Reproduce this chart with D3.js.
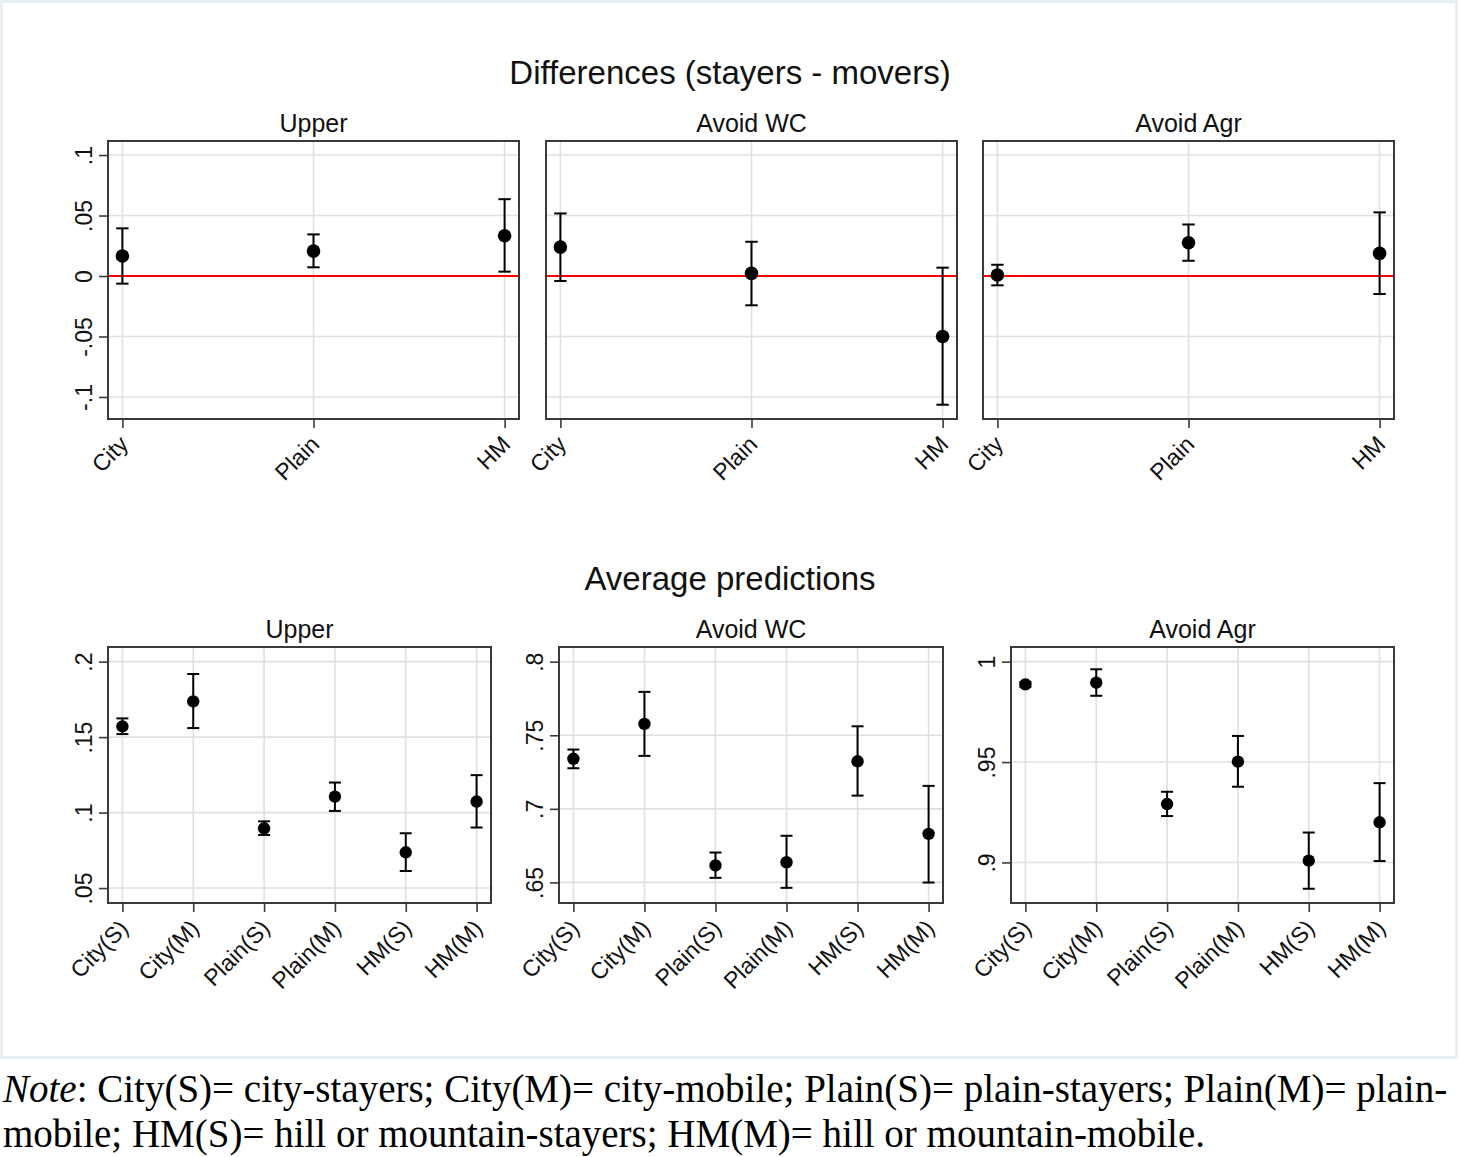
<!DOCTYPE html>
<html>
<head>
<meta charset="utf-8">
<script src="https://cdn.jsdelivr.net/npm/d3@7"></script>
<style>
  html, body { margin: 0; padding: 0; background: #fff; }
  svg { display: block; }
</style>
</head>
<body>
<script>
// ---------------- DATA ----------------
const topCats = ["City", "Plain", "HM"];
const botCats = ["City(S)", "City(M)", "Plain(S)", "Plain(M)", "HM(S)", "HM(M)"];
const panelTitles = ["Upper", "Avoid WC", "Avoid Agr"];

// Differences (stayers - movers): estimate, lower CI, upper CI
const diffUpperEst = [0.0165, 0.0206, 0.0333];
const diffUpperLo  = [-0.0063, 0.0072, 0.0036];
const diffUpperHi  = [0.0394, 0.0344, 0.0635];

const diffWCEst = [0.0239, 0.0022, -0.0500];
const diffWCLo  = [-0.0041, -0.0242, -0.1064];
const diffWCHi  = [0.0517, 0.0283, 0.0069];

const diffAgrEst = [0.0008, 0.0275, 0.0187];
const diffAgrLo  = [-0.0077, 0.0126, -0.0149];
const diffAgrHi  = [0.0093, 0.0426, 0.0526];

// Average predictions: estimate, lower CI, upper CI
const predUpperEst = [0.1571, 0.1737, 0.0896, 0.1106, 0.0737, 0.1073];
const predUpperLo  = [0.1520, 0.1560, 0.0852, 0.1011, 0.0613, 0.0901];
const predUpperHi  = [0.1624, 0.1918, 0.0942, 0.1199, 0.0863, 0.1248];

const predWCEst = [0.7340, 0.7577, 0.6615, 0.6637, 0.7323, 0.6830];
const predWCLo  = [0.7276, 0.7360, 0.6531, 0.6463, 0.7090, 0.6499];
const predWCHi  = [0.7403, 0.7795, 0.6703, 0.6817, 0.7561, 0.7156];

const predAgrEst = [0.9887, 0.9895, 0.9291, 0.9502, 0.9009, 0.9200];
const predAgrLo  = [0.9875, 0.9830, 0.9231, 0.9377, 0.8869, 0.9007];
const predAgrHi  = [0.9899, 0.9962, 0.9352, 0.9630, 0.9149, 0.9395];

// Axis ticks and labels
const diffTicks = [-0.1, -0.05, 0, 0.05, 0.1];
const diffTickLabels = ["-.1", "-.05", "0", ".05", ".1"];
const predUpperTicks = [0.05, 0.1, 0.15, 0.2];
const predUpperTickLabels = [".05", ".1", ".15", ".2"];
const predWCTicks = [0.65, 0.7, 0.75, 0.8];
const predWCTickLabels = [".65", ".7", ".75", ".8"];
const predAgrTicks = [0.9, 0.95, 1];
const predAgrTickLabels = [".9", ".95", "1"];

// Axis ranges
const diffRange = [-0.1182, 0.1116];
const predUpperRange = [0.0401, 0.2097];
const predWCRange = [0.636, 0.81];
const predAgrRange = [0.8798, 1.0073];

const titleTop = "Differences (stayers - movers)";
const titleBottom = "Average predictions";
const noteLine1Rest = ": City(S)= city-stayers; City(M)= city-mobile; Plain(S)= plain-stayers; Plain(M)= plain-";
const noteLine2 = "mobile; HM(S)= hill or mountain-stayers; HM(M)= hill or mountain-mobile.";

// ---------------- DRAW ----------------
const W = 1459, H = 1157;
const svg = d3.select("body").append("svg").attr("width", W).attr("height", H)
  .style("font-family", "'Liberation Sans', Arial, sans-serif");

svg.append("rect").attr("x", 0).attr("y", 0).attr("width", W).attr("height", H).attr("fill", "#fff");
svg.append("rect").attr("x", 1.5).attr("y", 1.5).attr("width", 1455).attr("height", 1056)
  .attr("fill", "#fff").attr("stroke", "#e6eff1").attr("stroke-width", 3);

const FRAME = "#3a3a3a", GRID = "#e0e0e0";
const TICKFONT = 23;

function panel(o) {
  const x = d3.scalePoint().domain(o.cats).range([o.x0 + 14.4, o.x1 - 14.4]);
  const y = d3.scaleLinear().domain(o.range).range([o.y1, o.y0]);
  const g = svg.append("g");

  // title
  g.append("text").attr("x", (o.x0 + o.x1) / 2).attr("y", o.y0 - 9)
    .attr("text-anchor", "middle").attr("font-size", 25).attr("fill", "#111").text(o.title);

  // grid
  g.selectAll(".hg").data(o.ticks).join("line")
    .attr("x1", o.x0).attr("x2", o.x1).attr("y1", d => y(d)).attr("y2", d => y(d))
    .attr("stroke", GRID).attr("stroke-width", 1.6);
  g.selectAll(".vg").data(o.cats).join("line")
    .attr("x1", d => x(d)).attr("x2", d => x(d)).attr("y1", o.y0).attr("y2", o.y1)
    .attr("stroke", GRID).attr("stroke-width", 1.6);

  // reference line
  if (o.ref !== undefined) {
    g.append("line").attr("x1", o.x0).attr("x2", o.x1).attr("y1", y(o.ref)).attr("y2", y(o.ref))
      .attr("stroke", "#ff0000").attr("stroke-width", 2);
  }

  // frame
  g.append("rect").attr("x", o.x0).attr("y", o.y0).attr("width", o.x1 - o.x0).attr("height", o.y1 - o.y0)
    .attr("fill", "none").attr("stroke", FRAME).attr("stroke-width", 2);

  // y axis
  if (o.showY) {
    const ya = g.append("g").attr("transform", `translate(${o.x0},0)`)
      .call(d3.axisLeft(y).tickValues(o.ticks).tickFormat((d, i) => o.tickLabels[i]).tickSize(9));
    ya.select(".domain").remove();
    ya.selectAll(".tick line").attr("stroke", FRAME).attr("stroke-width", 1.6);
    ya.selectAll(".tick text").attr("x", 0).attr("dy", 0).attr("text-anchor", "middle")
      .attr("transform", "translate(-16,0) rotate(-90)")
      .attr("font-size", TICKFONT).attr("fill", "#111")
      .style("font-family", "'Liberation Sans', Arial, sans-serif");
  }

  // x axis
  const xa = g.append("g").attr("transform", `translate(0,${o.y1})`)
    .call(d3.axisBottom(x).tickSize(9));
  xa.select(".domain").remove();
  xa.selectAll(".tick line").attr("stroke", FRAME).attr("stroke-width", 1.6);
  xa.selectAll(".tick text").attr("y", 0).attr("dy", "0.35em").attr("text-anchor", "end")
    .attr("transform", "translate(1,21) rotate(-45)")
    .attr("font-size", TICKFONT).attr("fill", "#111")
    .style("font-family", "'Liberation Sans', Arial, sans-serif");

  // error bars
  const data = o.cats.map((c, i) => ({ c, e: o.est[i], lo: o.lo[i], hi: o.hi[i] }));
  const eb = g.append("g").attr("stroke", "#000").attr("stroke-width", 2);
  eb.selectAll(".v").data(data).join("line")
    .attr("x1", d => x(d.c)).attr("x2", d => x(d.c)).attr("y1", d => y(d.lo)).attr("y2", d => y(d.hi));
  eb.selectAll(".ct").data(data).join("line")
    .attr("x1", d => x(d.c) - o.cap).attr("x2", d => x(d.c) + o.cap).attr("y1", d => y(d.hi)).attr("y2", d => y(d.hi));
  eb.selectAll(".cb").data(data).join("line")
    .attr("x1", d => x(d.c) - o.cap).attr("x2", d => x(d.c) + o.cap).attr("y1", d => y(d.lo)).attr("y2", d => y(d.lo));

  g.selectAll(".pt").data(data).join("circle")
    .attr("cx", d => x(d.c)).attr("cy", d => y(d.e)).attr("r", o.r).attr("fill", "#000");
}

// Titles
svg.append("text").attr("x", 730).attr("y", 84).attr("text-anchor", "middle")
  .attr("font-size", 33).attr("fill", "#111").text(titleTop);
svg.append("text").attr("x", 730).attr("y", 590).attr("text-anchor", "middle")
  .attr("font-size", 33).attr("fill", "#111").text(titleBottom);

const topY0 = 141, topY1 = 419;
const botY0 = 647, botY1 = 903;

panel({ title: panelTitles[0], x0: 108, x1: 519, y0: topY0, y1: topY1, cats: topCats,
  est: diffUpperEst, lo: diffUpperLo, hi: diffUpperHi, ticks: diffTicks, tickLabels: diffTickLabels,
  range: diffRange, showY: true, ref: 0, r: 6.8, cap: 6.2 });
panel({ title: panelTitles[1], x0: 546, x1: 957, y0: topY0, y1: topY1, cats: topCats,
  est: diffWCEst, lo: diffWCLo, hi: diffWCHi, ticks: diffTicks, tickLabels: diffTickLabels,
  range: diffRange, showY: false, ref: 0, r: 6.8, cap: 6.2 });
panel({ title: panelTitles[2], x0: 983, x1: 1394, y0: topY0, y1: topY1, cats: topCats,
  est: diffAgrEst, lo: diffAgrLo, hi: diffAgrHi, ticks: diffTicks, tickLabels: diffTickLabels,
  range: diffRange, showY: false, ref: 0, r: 6.8, cap: 6.2 });

panel({ title: panelTitles[0], x0: 108, x1: 491, y0: botY0, y1: botY1, cats: botCats,
  est: predUpperEst, lo: predUpperLo, hi: predUpperHi, ticks: predUpperTicks, tickLabels: predUpperTickLabels,
  range: predUpperRange, showY: true, r: 6.2, cap: 6 });
panel({ title: panelTitles[1], x0: 559, x1: 943, y0: botY0, y1: botY1, cats: botCats,
  est: predWCEst, lo: predWCLo, hi: predWCHi, ticks: predWCTicks, tickLabels: predWCTickLabels,
  range: predWCRange, showY: true, r: 6.2, cap: 6 });
panel({ title: panelTitles[2], x0: 1011, x1: 1394, y0: botY0, y1: botY1, cats: botCats,
  est: predAgrEst, lo: predAgrLo, hi: predAgrHi, ticks: predAgrTicks, tickLabels: predAgrTickLabels,
  range: predAgrRange, showY: true, r: 6.2, cap: 6 });

// Note
const note = svg.append("g").style("font-family", "'Liberation Serif', 'Times New Roman', serif")
  .attr("font-size", 39).attr("fill", "#000");
const l1 = note.append("text").attr("x", 3).attr("y", 1102);
l1.append("tspan").attr("font-style", "italic").text("Note");
l1.append("tspan").text(noteLine1Rest);
note.append("text").attr("x", 3).attr("y", 1147).text(noteLine2);
</script>
</body>
</html>
